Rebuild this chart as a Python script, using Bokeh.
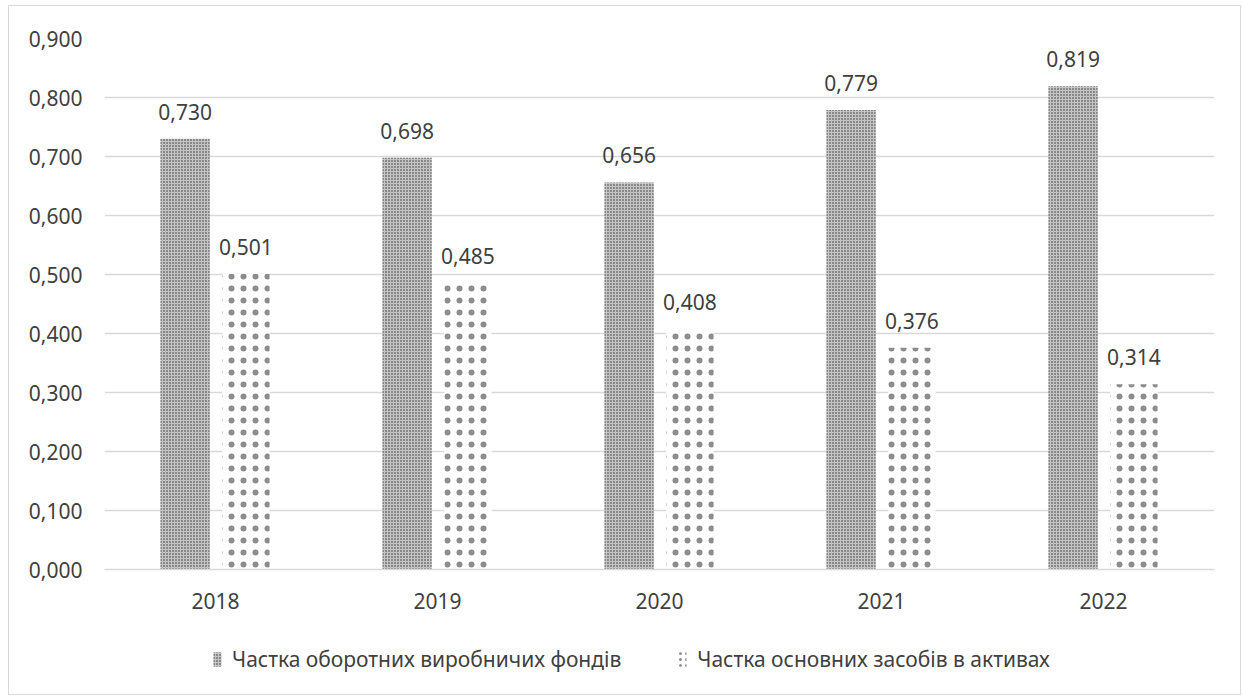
from bokeh.plotting import figure
from bokeh.layouts import column, row
from bokeh.models import ColumnDataSource, FactorRange, Range1d, FixedTicker, CustomJSTickFormatter, Legend, LegendItem, Spacer
from bokeh.transform import dodge
from bokeh.core.properties import value
from bokeh.embed import file_html
from bokeh.resources import INLINE

years = ["2018", "2019", "2020", "2021", "2022"]
working_capital = [0.730, 0.698, 0.656, 0.779, 0.819]
fixed_assets = [0.501, 0.485, 0.408, 0.376, 0.314]
series_names = ["Частка оборотних виробничих фондів", "Частка основних засобів в активах"]
y_ticks = [0.0, 0.1, 0.2, 0.3, 0.4, 0.5, 0.6, 0.7, 0.8, 0.9]

def fmt(v):
    return f"{v:.3f}".replace(".", ",")

src = ColumnDataSource(dict(
    year=years,
    a=working_capital,
    b=fixed_assets,
    la=[fmt(v) for v in working_capital],
    lb=[fmt(v) for v in fixed_assets],
))

FONT = "Noto Sans"
TXT = "#404040"
BORDER = "1px solid #d9d9d9"

S1 = dict(fill_color="#c4c4c4", line_color=None,
          hatch_pattern="dot", hatch_scale=3, hatch_weight=1.5, hatch_color="#2e2e2e")
S2 = dict(fill_color="white", line_color=None,
          hatch_pattern="dot", hatch_scale=12, hatch_weight=1.0, hatch_color="#8c8c8c")

W = 1233
p = figure(width=W, height=625, x_range=FactorRange(*years), y_range=Range1d(0, 0.9),
           output_backend="svg", toolbar_location=None,
           min_border_left=95, min_border_right=28, min_border_top=32, min_border_bottom=62)
p.styles = {"border": BORDER, "border-bottom": "none", "box-sizing": "border-box"}
p.outline_line_color = None
p.background_fill_color = "white"
p.border_fill_color = "white"

off = 0.137
w = 0.222
p.vbar(x=dodge("year", -off, range=p.x_range), top="a", width=w, source=src, **S1)
p.vbar(x=dodge("year", off, range=p.x_range), top="b", width=w * 0.96, source=src, **S2)

p.text(x=dodge("year", -off, range=p.x_range), y="a", text="la", source=src,
       text_align="center", text_baseline="alphabetic", y_offset=-27,
       text_font=value(FONT), text_font_size="21px", text_color=TXT)
p.text(x=dodge("year", off, range=p.x_range), y="b", text="lb", source=src,
       text_align="center", text_baseline="alphabetic", y_offset=-27,
       text_font=value(FONT), text_font_size="21px", text_color=TXT)

p.yaxis.ticker = FixedTicker(ticks=y_ticks)
p.yaxis.formatter = CustomJSTickFormatter(code="return tick.toFixed(3).replace('.', ',');")
p.yaxis.axis_line_color = None
p.yaxis.major_tick_line_color = None
p.yaxis.minor_tick_line_color = None
p.yaxis.major_label_standoff = 16
p.yaxis.major_label_text_font = FONT
p.yaxis.major_label_text_font_size = "21px"
p.yaxis.major_label_text_color = TXT

p.xaxis.axis_line_color = "#d9d9d9"
p.xaxis.axis_line_width = 1.5
p.xaxis.major_tick_line_color = None
p.xaxis.minor_tick_line_color = None
p.xaxis.major_label_standoff = 17
p.xaxis.major_label_text_font = FONT
p.xaxis.major_label_text_font_size = "21px"
p.xaxis.major_label_text_color = TXT

p.xgrid.grid_line_color = None
p.ygrid.grid_line_color = "#d9d9d9"
p.ygrid.grid_line_width = 1.3

# legend strip (same series, renderers hidden; only their legend swatches are shown)
p2 = figure(width=W, height=65, x_range=FactorRange(*years), y_range=Range1d(0, 1),
            output_backend="svg", toolbar_location=None,
            min_border_left=0, min_border_right=0, min_border_top=0, min_border_bottom=0)
p2.styles = {"border": BORDER, "border-top": "none", "box-sizing": "border-box"}
p2.axis.visible = False
p2.grid.grid_line_color = None
p2.outline_line_color = None
l1 = p2.vbar(x="year", top="a", width=w, source=src, visible=False, **S1)
l2 = p2.vbar(x="year", top="b", width=w, source=src, visible=False,
             **dict(S2, hatch_scale=6))

legend = Legend(items=[LegendItem(label=series_names[0], renderers=[l1], index=0),
                       LegendItem(label=series_names[1], renderers=[l2], index=0)],
                location=(108, 22), orientation="horizontal",
                glyph_width=10, glyph_height=18, label_standoff=10, spacing=56,
                padding=0, margin=0, border_line_color=None, background_fill_alpha=0,
                inactive_fill_alpha=0,
                label_text_font=FONT, label_text_font_size="21px", label_text_color=TXT)
p2.add_layout(legend, "center")

layout = column(Spacer(width=W, height=5), row(Spacer(width=8, height=690), column(p, p2, spacing=0)))
open("out.html", "w").write(file_html(layout, INLINE))
